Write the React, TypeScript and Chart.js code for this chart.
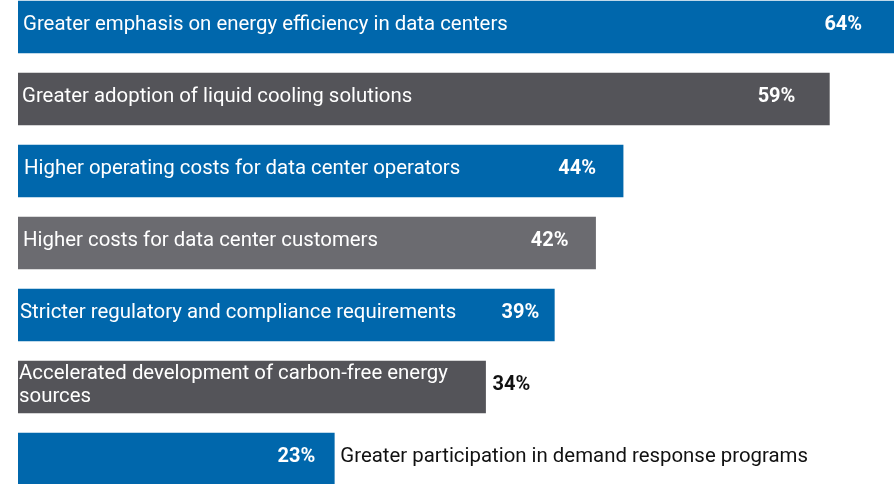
import React, { useEffect, useRef } from "react";
import { Chart, registerables } from "chart.js";

Chart.register(...registerables);

const categories: (string | string[])[] = [
  "Greater emphasis on energy efficiency in data centers",
  "Greater adoption of liquid cooling solutions",
  "Higher operating costs for data center operators",
  "Higher costs for data center customers",
  "Stricter regulatory and compliance requirements",
  ["Accelerated development of carbon-free energy", "sources"],
  "Greater participation in demand response programs",
];
const values = [64, 59, 44, 42, 39, 34, 23];
const valueLabels = ["64%", "59%", "44%", "42%", "39%", "34%", "23%"];

// styling
const barColors = ["#0067ac", "#545459", "#0067ac", "#6b6b70", "#0067ac", "#545459", "#0067ac"];
const labelInside = [true, true, true, true, true, true, false];
const pctInside = [true, true, true, true, true, false, true];
const pctInset = [36, 34, 27, 27, 15, 7, 19];
const labelPad = [5, 4, 6, 5, 2, 1, 6];

const LABEL_FONT = "20.4px Roboto";
const PCT_FONT = "bold 20px Roboto";

const labelPlugin = {
  id: "barLabels",
  afterDatasetsDraw(chart: any) {
    const ctx = chart.ctx;
    const meta = chart.getDatasetMeta(0);
    ctx.save();
    meta.data.forEach((bar: any, i: number) => {
      const { x, y, base } = bar.getProps(["x", "y", "base"], true);
      const dy = -2;
      const cat = categories[i];
      const lines = Array.isArray(cat) ? cat : [cat];
      ctx.font = LABEL_FONT;
      ctx.textBaseline = "middle";
      ctx.textAlign = "left";
      const lh = 23;
      const startY = y + dy - ((lines.length - 1) * lh) / 2;
      if (labelInside[i]) {
        ctx.fillStyle = "#ffffff";
        lines.forEach((ln, k) => ctx.fillText(ln, base + labelPad[i], startY + k * lh));
      } else {
        ctx.fillStyle = "#111111";
        lines.forEach((ln, k) => ctx.fillText(ln, x + labelPad[i], startY + k * lh));
      }
      ctx.font = PCT_FONT;
      if (pctInside[i]) {
        ctx.fillStyle = "#ffffff";
        ctx.textAlign = "right";
        ctx.fillText(valueLabels[i], x - pctInset[i], y + dy);
      } else {
        ctx.fillStyle = "#111111";
        ctx.textAlign = "left";
        ctx.fillText(valueLabels[i], x + pctInset[i], y + dy);
      }
    });
    ctx.restore();
  },
};

export default function App() {
  const ref = useRef<HTMLCanvasElement | null>(null);
  useEffect(() => {
    if (!ref.current) return;
    const chart = new Chart(ref.current, {
      type: "bar",
      data: {
        labels: categories as any,
        datasets: [
          {
            data: values,
            backgroundColor: barColors,
            borderWidth: 0,
            barThickness: 52,
          },
        ],
      },
      options: {
        indexAxis: "y",
        animation: false,
        responsive: true,
        maintainAspectRatio: false,
        layout: { padding: { left: 18, right: 0, top: 0, bottom: 0 } },
        plugins: { legend: { display: false }, tooltip: { enabled: false } },
        scales: {
          x: { display: false, min: 0, max: 63.7 },
          y: { display: false },
        },
      },
      plugins: [labelPlugin],
    });
    return () => chart.destroy();
  }, []);
  return (
    <div style={{ position: "fixed", left: 0, top: 0, width: 894, height: 484, overflow: "hidden", background: "#fff" }}>
      <div style={{ position: "absolute", left: 0, top: -9, width: 894, height: 504 }}>
        <canvas ref={ref} />
      </div>
    </div>
  );
}
